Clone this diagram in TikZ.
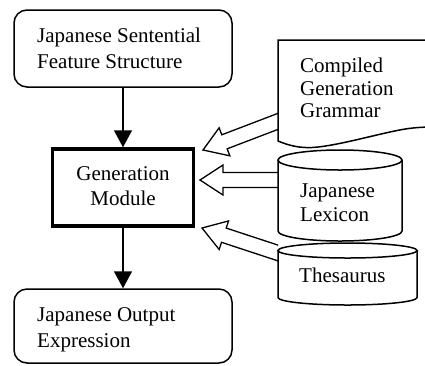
\documentclass[tikz,border=0pt]{standalone}
\usepackage{fontspec}
\setmainfont{Liberation Serif}
\usetikzlibrary{arrows.meta,calc}
\newcommand\fstrut{\rule{0pt}{16pt}}
\newcommand\drawcyl[5]{%
  \pgfmathsetmacro\cylcx{(#1+#2)/2}%
  \pgfmathsetmacro\cylrx{(#2-#1)/2}%
  \fill[white] (#1,#3+#5) -- (#1,#4-#5) .. controls (#1,{#4-#5+0.5523*#5}) and ({\cylcx-0.5523*\cylrx},#4) .. (\cylcx,#4) .. controls ({\cylcx+0.5523*\cylrx},#4) and (#2,{#4-#5+0.5523*#5}) .. (#2,#4-#5) -- (#2,#3+#5) -- cycle;
  \draw[shapeline] (#1,#3+#5) -- (#1,#4-#5) .. controls (#1,{#4-#5+0.5523*#5}) and ({\cylcx-0.5523*\cylrx},#4) .. (\cylcx,#4) .. controls ({\cylcx+0.5523*\cylrx},#4) and (#2,{#4-#5+0.5523*#5}) .. (#2,#4-#5) -- (#2,#3+#5);
  \draw[shapeline, fill=white] (\cylcx,#3+#5) ellipse [x radius=\cylrx, y radius=#5];
}
\newcommand\blockarrow[2]{%
  \path ($(#2)!23pt!(#1)$) coordinate (bah);
  \draw[barrow] ($(#1)!7.5pt!90:(#2)$) -- ($(bah)!7.5pt!90:(#2)$) -- ($(bah)!15pt!90:(#2)$) -- (#2) -- ($(bah)!15pt!-90:(#2)$) -- ($(bah)!7.5pt!-90:(#2)$) -- ($(#1)!7.5pt!-90:(#2)$);
}
\begin{document}
\begin{tikzpicture}[x=1pt,y=-1pt,
  box/.style={draw, line width=1.5pt, rounded corners=13pt, minimum width=218pt, minimum height=77pt, inner sep=0},
  modbox/.style={draw, line width=3.5pt, minimum width=141pt, minimum height=77pt, inner sep=0},
  lbl/.style={inner sep=0, anchor=north west, align=left, font=\fontsize{21}{26}\selectfont},
  flow/.style={line width=1.5pt, -{Triangle[width=18pt,length=17pt]}},
  barrow/.style={fill=white, line width=1.3pt, line join=miter},
  shapeline/.style={line width=1.5pt}]
\clip (0,0) rectangle (425,365);
\fill[white] (0,0) rectangle (425,365);

\node[box] (top) at (123,48.5) {};
\node[modbox] (mod) at (123,187.5) {};
\node[box, minimum height=74pt] (bot) at (123,326) {};

\node[lbl] (top-t) at (37,26.5) {\fstrut Japanese Sentential\\Feature Structure};
\node[lbl, align=center, anchor=north, font=\fontsize{21}{25}\selectfont] (mod-t) at (123,164) {\fstrut Generation\\Module};
\node[lbl] (bot-t) at (37,305) {\fstrut Japanese Output\\Expression};

\draw[flow] (top.south) -- (mod.north);
\draw[flow] (mod.south) -- (bot.north);

\coordinate (g-tail) at (296.7,114.2);
\coordinate (g-tip) at (203,150);
\coordinate (l-tail) at (300,180);
\coordinate (l-tip) at (200,180);
\coordinate (t-tail) at (297,259.25);
\coordinate (t-tip) at (202,228);
\begin{scope}
  \clip (0,0) rectangle (278,365);
  \blockarrow{g-tail}{g-tip}
  \blockarrow{l-tail}{l-tip}
  \blockarrow{t-tail}{t-tip}
\end{scope}

\draw[shapeline, fill=white] (440,40) -- (278,40) -- (278,141) .. controls (290,146) and (300,148) .. (312,147.5) .. controls (340,146) and (390,130) .. (413,128) .. controls (418,127.5) and (422,127) .. (440,127);
\node[lbl, font=\fontsize{21}{22.5}\selectfont] (gram) at (300,56.5) {\fstrut Compiled\\Generation\\Grammar};

\drawcyl{278}{402}{150}{241}{10}
\node[lbl, font=\fontsize{21}{23.5}\selectfont] (lex) at (300,181.5) {\fstrut Japanese\\Lexicon};

\drawcyl{278}{417}{243}{305}{7.5}
\node[lbl] (thes) at (299,266) {\fstrut Thesaurus};
\end{tikzpicture}
\end{document}
